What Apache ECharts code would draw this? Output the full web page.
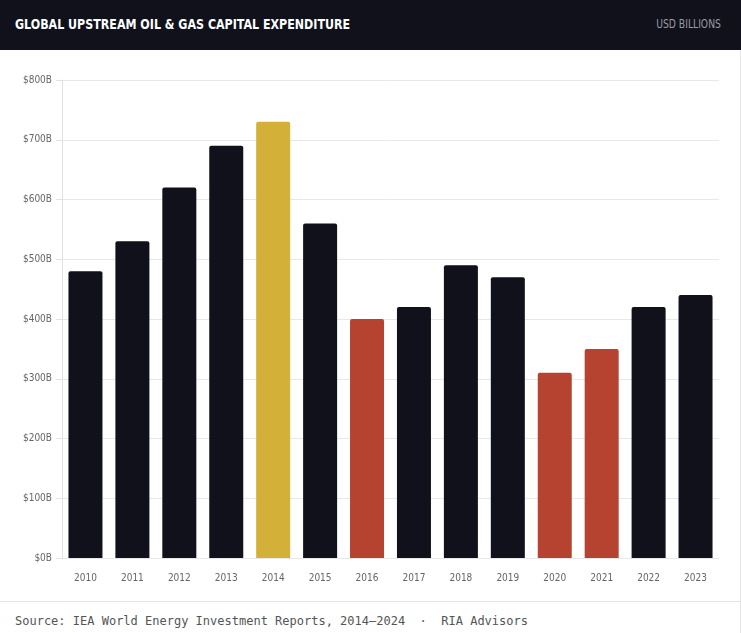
<!DOCTYPE html>
<html>
<head>
<meta charset="utf-8">
<script src="https://cdn.jsdelivr.net/npm/echarts@6/dist/echarts.min.js"></script>
<style>
  html, body { margin: 0; padding: 0; background: #fff; }
  body { width: 741px; height: 633px; position: relative; overflow: hidden; }
  .header {
    height: 50px; background: #10111a; color: #fff; position: relative;
    font-family: "DejaVu Sans Condensed", "Liberation Sans Narrow", sans-serif;
  }
  .header h1 {
    position: absolute; left: 15px; top: 15px; margin: 0;
    font-size: 14.5px; line-height: 18px; font-weight: bold;
    transform: scaleX(0.85); transform-origin: left center; white-space: nowrap;
  }
  .header span {
    position: absolute; right: 20px; top: 16px;
    font-size: 12.5px; line-height: 16px; color: #9a9ba3;
    transform: scaleX(0.82); transform-origin: right center; white-space: nowrap;
  }
  #chart { position: absolute; left: 0; top: 50px; width: 740px; height: 551px; }
  .footer {
    position: absolute; left: 0; top: 601px; width: 740px; height: 32px;
    border-top: 1px solid #e4e4e4; box-sizing: border-box;
    font-family: "DejaVu Sans Mono", monospace; font-size: 12px; color: #555;
    padding: 12px 0 0 15px; white-space: pre;
  }
  .edge { position: absolute; right: 0; top: 50px; width: 1px; height: 583px; background: #e4e4e4; }
</style>
</head>
<body>
<div class="header"><h1>GLOBAL UPSTREAM OIL &amp; GAS CAPITAL EXPENDITURE</h1><span>USD BILLIONS</span></div>
<div id="chart"></div>
<div class="footer">Source: IEA World Energy Investment Reports, 2014–2024  ·  RIA Advisors</div>
<div class="edge"></div>
<script>
const years = ["2010", "2011", "2012", "2013", "2014", "2015", "2016", "2017", "2018", "2019", "2020", "2021", "2022", "2023"];
const capex = [480, 530, 620, 690, 730, 560, 400, 420, 490, 470, 310, 350, 420, 440];
const peakYears = ["2014"];
const downYears = ["2016", "2020", "2021"];

function barColor(year) {
  if (peakYears.includes(year)) return "#d3b037";
  if (downYears.includes(year)) return "#b5432f";
  return "#10111a";
}

const chart = echarts.init(document.getElementById("chart"));
const labelFont = { fontFamily: "DejaVu Sans Condensed, sans-serif", fontSize: 10, color: "#666" };

chart.setOption({
  animation: false,
  grid: { left: 62, right: 21, top: 30, bottom: 43 },
  xAxis: {
    type: "category",
    data: years,
    axisLine: { show: false },
    axisTick: { show: false },
    axisLabel: Object.assign({ margin: 15 }, labelFont)
  },
  yAxis: {
    type: "value",
    min: 0, max: 800, interval: 100,
    axisLine: { show: true, lineStyle: { color: "#e2e2e2" } },
    axisTick: { show: true, length: 6, lineStyle: { color: "#e2e2e2" } },
    splitLine: { lineStyle: { color: "#e8e8e8" } },
    axisLabel: Object.assign({ margin: 10, formatter: v => "$" + v + "B" }, labelFont)
  },
  series: [{
    type: "bar",
    barWidth: 34,
    data: capex.map((v, i) => ({
      value: v,
      itemStyle: { color: barColor(years[i]), borderRadius: [2, 2, 0, 0] }
    }))
  }]
});
</script>
</body>
</html>
